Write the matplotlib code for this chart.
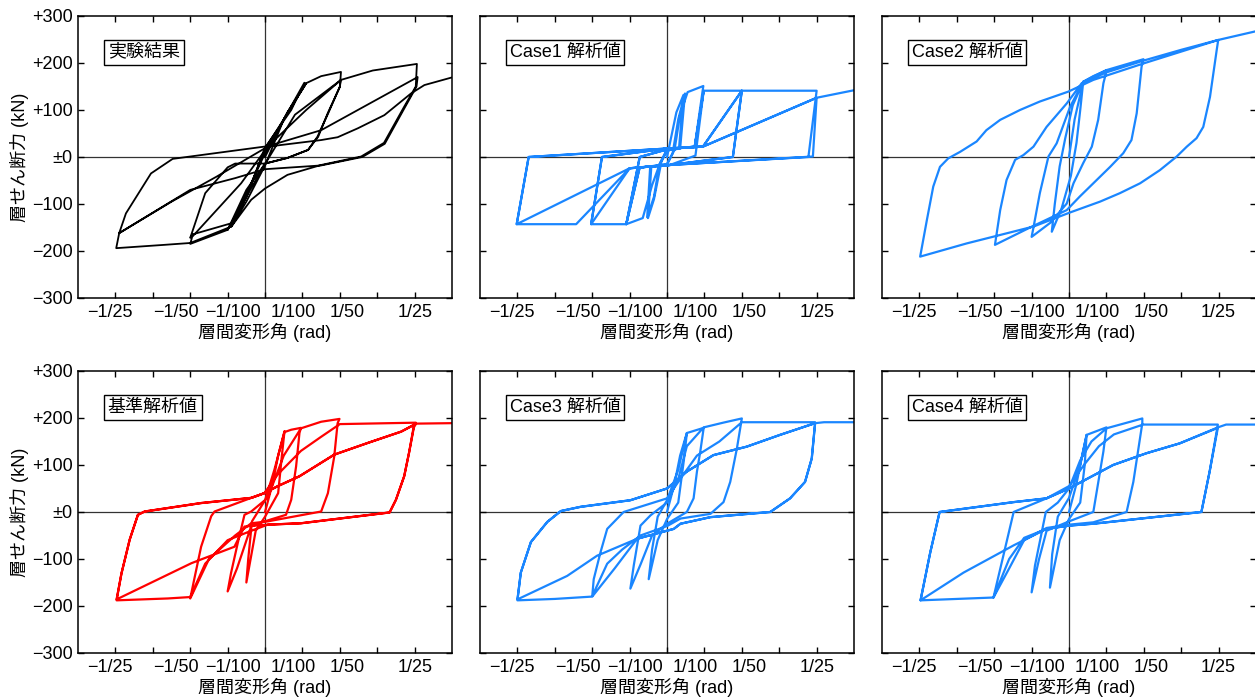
import matplotlib
matplotlib.use("Agg")
import matplotlib.pyplot as plt
from matplotlib.transforms import ScaledTranslation

plt.rcParams['font.family'] = ['Liberation Sans', 'Noto Sans CJK JP']
plt.rcParams['font.size'] = 13

# drift in 1/1000 rad, shear in kN
exp_drift = [0, 6, 11, 7, 0, -5, -9,
             -5, 0, 5, 10.5, 7, 0, -5, -10,
             -6, 0, 6, 11, 15, 20.3,
             20, 16.8, 14.2, 11.5, 6, 0, -5, -10, -20,
             -19.5, -6.4, 0.7, 11, 20.3,
             20, 17, 14, 11.5, 6, 0, -8, -10, -16, -20,
             -19.5, -9, -1, 8, 20.3, 28.8, 40.6,
             40.3, 37.2, 31.8, 25.7, 15, 6, 0, -3.7, -9, -20, -27, -39.8,
             -39, -37.2, -30.5, -24.7, 0.7, 15, 40.8,
             40.5, 37, 32, 26, 15, 0, -8, -20, -39,
             -25, -13, 0.7, 15, 19.4, 24.8, 31.9, 39, 42.6, 50.3]
exp_shear = [0, 95, 157, 105, 18, -85, -148,
             -95, -18, 80, 158, 100, 20, -85, -155,
             -95, 8, 95, 157, 172, 181,
             149, 94, 43, 15, -2, -14, -70, -155, -185,
             -170, -56, 22, 100, 164,
             150, 95, 43, 15, -2, -14, -14, -22, -77, -172,
             -165, -141, -28, 90, 164, 184, 198,
             150, 107, 30, 1, -17, -38, -67, -91, -148, -183, -187, -194,
             -162, -120, -35, -4, 23, 57, 170,
             150, 100, 28, 0, -18, -26, -45, -70, -162,
             -95, -42, 22, 36, 42, 61, 89, 135, 153, 170]

c1_drift = [0, 2.5, 4.4, 3.2, 0, -1.5, -3.5, -5.1,
            -4.2, 0, 1.5, 3, 4.8, 3.5, 0, -2, -3.5, -5.3,
            -4.5, 0, 2, 3.5, 5.5, 9.7,
            7.4, 0, -2, -4, -6.5, -10.9,
            -7.3, 0, 7.4, 9.8,
            7.6, 0.8, -7.3, -10.9,
            -7.3, 0, 7.4, 9.8, 20,
            17.6, 0.8, -7.3, -10.9, -20.3,
            -17.4, 0, 9.6, 20,
            17.6, 0.8, -10, -20.3,
            -17.4, 0, 9.6, 20, 40,
            37.8, 0.8, -10, -24.3, -40.2,
            -37, 0, 9.6, 40,
            39, 0.8, -10, -40.2,
            -37, 0, 9.6, 40, 50]
c1_shear = [0, 95, 132, 18, 14, -10, -90, -130,
            -20, -16, 8, 80, 135, 18, 14, -15, -85, -128,
            -20, -15, 15, 90, 138, 151,
            22, 17, -16, -60, -130, -143,
            0, 16, 22, 141,
            3, -17, -22, -143,
            0, 16, 22, 141, 141,
            0, -17, -22, -143, -143,
            0, 18, 22, 141,
            0, -17, -24, -143,
            0, 18, 22, 141, 141,
            0, -17, -24, -143, -143,
            0, 18, 22, 126,
            1, -17, -24, -143,
            0, 18, 22, 126, 142]

c2_drift = [0, 1.5, 3.8, 3, 2, 0.5, -2, -4.6, -3.8, -2.5, -1, 1, 3.8,
            6.5, 10.1, 9.2, 7.8, 6.1, 3.8, 1.2, -0.6, -5, -10,
            -9.5, -7.8, -5.5, -3.3, 0.3, 3.8, 10.1,
            19.9, 19.4, 18.1, 16.7, 14.5, 11, 8.3, 2.9, -0.6, -10.4, -19.8,
            -18.4, -16.7, -14.4, -12.2, -9.5, -6, -0.6, 3.4, 10, 19.9,
            30, 39.9, 39.5, 37.7, 35.9, 34.1, 31.5, 28.8, 24.3, 19, 13.6, 8.3, 0.3, -9.5, -27.4, -39.8,
            -38, -36.3, -34.5, -32.3, -29.1, -24.7, -22.1, -18.4, -13.1, -7.8, -0.2, 6.5, 19.9, 39.9, 49.7]
c2_shear = [0, 80, 160, 100, 30, -40, -110, -159, -100, -20, 40, 110, 160,
            172, 185, 157, 79, 22, -13, -56, -99, -140, -170,
            -150, -77, 1, 29, 107, 160, 185,
            208, 192, 93, 36, 8, -21, -42, -84, -113, -150, -187,
            -113, -49, -6, 4, 22, 64, 114, 157, 180, 205,
            228, 249, 228, 128, 64, 40, 22, 1, -28, -56, -77, -95, -118, -148, -184, -212,
            -134, -63, -21, -3, 11, 33, 57, 79, 100, 118, 139, 164, 199, 249, 267]

ref_drift = [0, 2, 3.5, 5.2,
             4.5, 3.5, 0, -2.5, -5,
             -4.5, -3.5, 0, 2.5, 5.2, 7, 9.6,
             9.2, 8.3, 7, 5.6, 0.7, -3.7, -7.5, -10,
             -9.1, -7.3, -5.5, -3.7, 0.7, 5, 9.6, 15, 19.9,
             19.4, 18.5, 16.8, 15, 0.7, -3.7, -8, -15, -20,
             -18.8, -17.1, -14.4, -13.5, -3.7, -0.2, 3.4, 9.6, 15, 20, 40.3,
             39.8, 38.5, 37.2, 35, 33.3, 9.6, 0.7, -3.7, -10, -16, -20, -26, -39.7,
             -38.4, -36.2, -34, -32.2, -17.1, -3.7, -0.2, 3.4, 9.2, 18.5, 27.5, 36.4, 40.3,
             39.8, 38.5, 37.2, 35, 33.3, 9.6, 0.7, -5.5, -8.2, -17.1, -19.7, -39.7,
             -38.4, -36.2, -34, -32.2, -17.1, -3.7, -0.2, 3.4, 9.2, 18.5, 27.5, 36.4, 40.3, 50]
ref_shear = [0, 60, 120, 172,
             120, 40, -10, -40, -150,
             -100, -20, 25, 90, 170, 175, 179,
             168, 97, 26, -6, -18, -30, -120, -169,
             -130, -66, -6, 1, 30, 120, 178, 192, 198,
             189, 118, 40, 1, -20, -24, -50, -100, -184,
             -138, -74, -9, 1, 30, 40, 80, 130, 160, 187, 190,
             184, 126, 76, 26, -1, -24, -27, -40, -60, -110, -181, -184, -188,
             -131, -59, -6, 1, 19, 30, 40, 55, 76, 122, 147, 171, 187,
             180, 126, 76, 26, -1, -24, -27, -31, -74, -101, -109, -186,
             -131, -59, -6, 1, 19, 30, 40, 55, 76, 122, 147, 171, 188, 189]

c3_drift = [0, 2, 3.5, 5.3,
            4.5, 3, 0, -2.5, -4.9,
            -4, -2.5, 0, 3, 5.3, 9.8,
            8.9, 8, 7.1, 5.3, 0, -4, -7, -9.8,
            -8.9, -7.1, -4.4, 0, 3, 5.3, 9.8, 15, 20,
            18.7, 16.9, 15.1, 11.6, 3.6, 0, -7.1, -12, -16, -20,
            -19.6, -17.8, -16, -11.6, 0, 3.6, 8, 14, 20, 39.6,
            38.7, 36.9, 32.9, 27.6, 11.6, 3.6, 1.8, -8, -14, -20, -30, -40,
            -39.1, -36.4, -32, -28.4, -23.1, -9.8, 0, 5.3, 12.4, 21.3, 30.2, 39.6,
            38.7, 36.9, 32.9, 27.6, 11.6, 3.6, 1.8, -8, -18.7, -26.7, -40,
            -39.1, -36.4, -32, -28.4, -23.1, -9.8, 0, 5.3, 12.4, 21.3, 30.2, 39.6, 42, 50]
c3_shear = [0, 60, 120, 168,
            110, 20, -15, -60, -143,
            -80, -10, 25, 90, 168, 179,
            129, 86, 29, 0, -25, -50, -110, -163,
            -114, -29, -7, 20, 70, 140, 180, 190, 199,
            136, 64, 21, -4, -14, -30, -50, -80, -110, -179,
            -143, -86, -36, 0, 29, 71, 120, 150, 191, 191,
            114, 64, 29, 0, -11, -25, -36, -57, -120, -180, -185, -188,
            -129, -64, -21, 2, 11, 25, 50, 86, 121, 139, 164, 189,
            114, 64, 29, 0, -11, -25, -36, -57, -93, -136, -186,
            -129, -64, -21, 2, 11, 25, 50, 86, 121, 139, 164, 189, 191, 191]

c4_drift = [0, 2, 3.5, 4.7,
            4.2, 3, 0, -2.5, -5.1,
            -4.5, -3, 0, 3, 4.7, 10,
            9.2, 6.5, 0, -6, -8, -10,
            -9.1, -6.2, -3, 0, 3, 6, 10, 19.6,
            19.6, 17.2, 15.4, 6.5, 0, -6, -12, -16, -20.2,
            -14.8, -6, 0, 4, 8, 12, 19.8, 39.8,
            37.6, 35.4, 6.5, 0, -6, -12, -16, -20.2, -39.7,
            -37.1, -34.6, -14.8, -6, 0, 11.8, 20.7, 29.6, 39.8,
            37.6, 35.4, 6.5, 0, -6, -14.8, -28.2, -39.7,
            -37.1, -34.6, -14.8, -6, 0, 11.8, 20.7, 29.6, 39.8, 42, 50]
c4_shear = [0, 60, 120, 164,
            100, 20, -15, -60, -161,
            -90, -10, 30, 100, 164, 180,
            129, 0, -20, -40, -100, -171,
            -114, 0, 20, 50, 110, 150, 178, 199,
            189, 64, 0, -22, -27, -34, -60, -120, -182,
            0, 29, 55, 100, 140, 165, 186, 186,
            86, 0, -25, -29, -36, -55, -100, -182, -188,
            -86, 0, 21, 29, 50, 100, 125, 146, 179,
            86, 0, -25, -29, -36, -71, -129, -188,
            -86, 0, 21, 29, 50, 100, 125, 146, 180, 186, 186]

panels = [
    ("実験結果", exp_drift, exp_shear, "black", 1.3),
    ("Case1 解析値", c1_drift, c1_shear, "#1a86ff", 1.6),
    ("Case2 解析値", c2_drift, c2_shear, "#1a86ff", 1.6),
    ("基準解析値", ref_drift, ref_shear, "#ff0000", 1.6),
    ("Case3 解析値", c3_drift, c3_shear, "#1a86ff", 1.6),
    ("Case4 解析値", c4_drift, c4_shear, "#1a86ff", 1.6),
]

x_ticks = [-40, -30, -20, -10, 0, 10, 20, 30, 40]
x_labels = ["\u22121/25", "", "\u22121/50", "\u22121/100", "", "1/100", "1/50", "", "1/25"]
x_shift = [-6, 0, -14, 5, 0, -9, 7, 0, 0]   # px nudges of the labels
y_ticks = [-300, -200, -100, 0, 100, 200, 300]
y_labels = ["\u2212300", "\u2212200", "\u2212100", "\u00b10", "+100", "+200", "+300"]

fig = plt.figure(figsize=(12.55, 6.98), dpi=100)
lefts = [0.0622, 0.3825, 0.7028]
bottoms = [0.5731, 0.0645]
w, h = 0.298, 0.404

for i, (title, xs, ys, col, lw) in enumerate(panels):
    r, c = divmod(i, 3)
    ax = fig.add_axes([lefts[c], bottoms[r], w, h])
    ax.axhline(0, color="#333333", lw=0.9, zorder=1)
    ax.axvline(0, color="#333333", lw=0.9, zorder=1)
    ax.plot(xs, ys, color=col, lw=lw, zorder=2, solid_joinstyle="round")
    ax.set_xlim(-50, 50)
    ax.set_ylim(-300, 300)
    ax.set_xticks(x_ticks)
    ax.set_xticklabels(x_labels)
    ax.set_yticks(y_ticks)
    if c == 0:
        ax.set_yticklabels(y_labels)
        ax.set_ylabel("層せん断力 (kN)", labelpad=2)
    else:
        ax.set_yticklabels([])
    ax.set_xlabel("層間変形角 (rad)", labelpad=2)
    ax.tick_params(direction="in", top=True, right=True, length=4, width=1, pad=4, labelsize=13)
    # nudge x labels sideways like the original (after tick_params, which resets transforms)
    for tick, dx in zip(ax.xaxis.get_major_ticks(), x_shift):
        tick.label1.set_transform(tick.label1.get_transform()
                                  + ScaledTranslation(dx / 100, 0, fig.dpi_scale_trans))
    for s in ax.spines.values():
        s.set_linewidth(1.1)
    ax.text(0.079, 0.872, title, transform=ax.transAxes, va="center", ha="left", fontsize=13,
            bbox=dict(boxstyle="square,pad=0.22", fc="white", ec="black", lw=1))

plt.savefig("out.png", dpi=100)
